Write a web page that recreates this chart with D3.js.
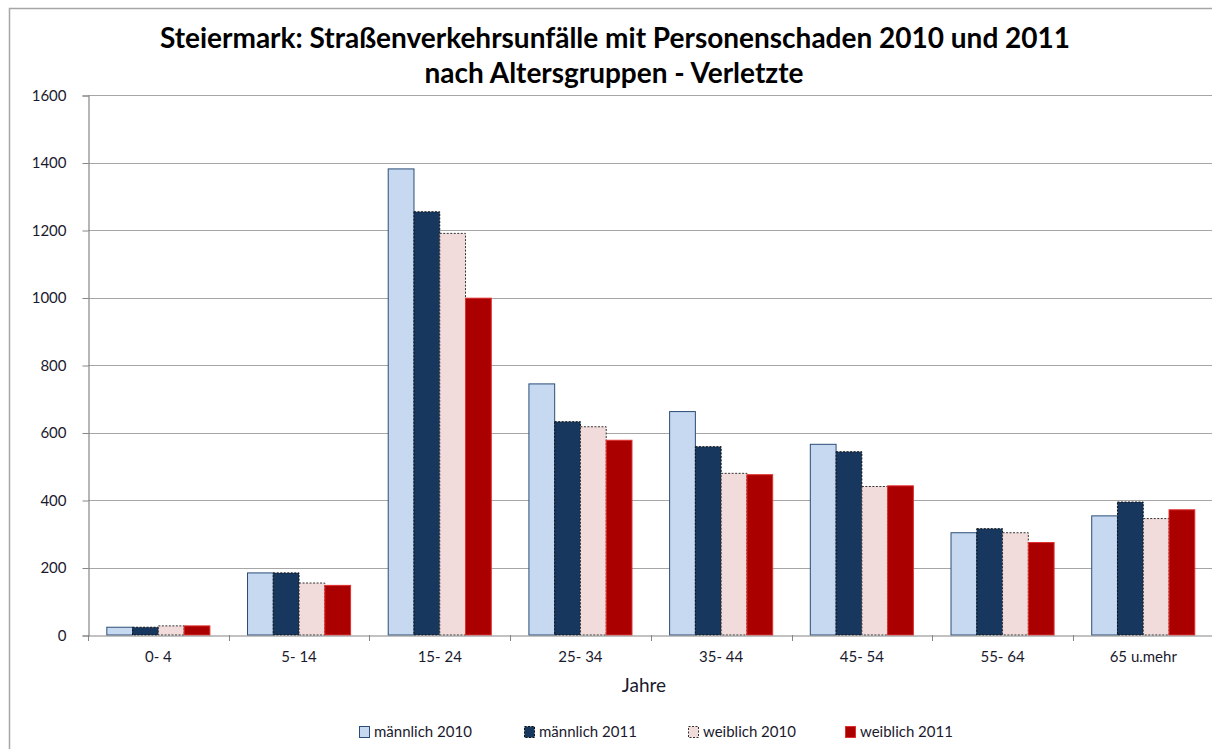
<!DOCTYPE html>
<html>
<head>
<meta charset="utf-8">
<script src="https://cdn.jsdelivr.net/npm/d3@7"></script>
<style>
  html, body { margin: 0; background: #fff; overflow: hidden; }
  svg { display: block; }
  text { font-family: Lato, "Open Sans", sans-serif; }
</style>
</head>
<body>
<div class="canvas"></div>
<script>
const ageGroups = ['0- 4', '5- 14', '15- 24', '25- 34', '35- 44', '45- 54', '55- 64', '65 u.mehr'];
const seriesNames = ['männlich 2010', 'männlich 2011', 'weiblich 2010', 'weiblich 2011'];
const maennlich2010 = [23, 184, 1381, 744, 662, 565, 303, 353];
const maennlich2011 = [23, 184, 1254, 632, 558, 543, 315, 394];
const weiblich2010 = [27, 154, 1190, 617, 479, 440, 303, 345];
const weiblich2011 = [27, 147, 998, 577, 475, 442, 274, 371];
const yTicks = [0, 200, 400, 600, 800, 1000, 1200, 1400, 1600];

const seriesValues = [maennlich2010, maennlich2011, weiblich2010, weiblich2011];
const styles = [
  { fill: '#c6d9f1', stroke: '#2c4d76', dash: null },
  { fill: '#17375e', stroke: '#111', dash: '2,1.5' },
  { fill: '#f2dcdb', stroke: '#333', dash: '2,1.5' },
  { fill: '#aa0000', stroke: '#e03030', dash: null }
];

const W = 1212, H = 749;
const plot = { left: 88, right: 1213.6, top: 95, bottom: 635 };

const svg = d3.select('.canvas')
  .append('svg')
  .attr('width', W)
  .attr('height', H);

// chart frame
svg.append('rect')
  .attr('x', 9.5).attr('y', 8.5)
  .attr('width', 1230).attr('height', 760)
  .attr('fill', 'none')
  .attr('stroke', '#a6a6a6')
  .attr('stroke-width', 1.5);

const x0 = d3.scaleBand()
  .domain(ageGroups)
  .range([plot.left, plot.right]);

const x1 = d3.scaleBand()
  .domain(seriesNames)
  .range([0, x0.bandwidth()])
  .paddingOuter(0.73);

const y = d3.scaleLinear()
  .domain([0, 1600])
  .range([plot.bottom, plot.top]);

// grid
svg.append('g')
  .selectAll('line')
  .data(yTicks.filter(d => d > 0))
  .enter().append('line')
    .attr('x1', plot.left).attr('x2', plot.right)
    .attr('y1', d => Math.round(y(d)) + 0.5)
    .attr('y2', d => Math.round(y(d)) + 0.5)
    .attr('stroke', '#a6a6a6')
    .attr('stroke-width', 1.2);

// y axis
const yAxis = svg.append('g')
  .attr('transform', `translate(${plot.left + 0.5}, 0.5)`)
  .call(d3.axisLeft(y).tickValues(yTicks).tickFormat(d3.format('d')).tickSize(6).tickPadding(16));
yAxis.select('.domain').attr('stroke', '#868686').attr('stroke-width', 1.2);
yAxis.selectAll('.tick line').attr('stroke', '#868686');
yAxis.selectAll('text')
  .attr('font-size', 15)
  .attr('fill', '#1a1a2e');

// bars
const groups = svg.append('g')
  .selectAll('g')
  .data(ageGroups)
  .enter().append('g')
    .attr('transform', d => `translate(${x0(d)}, 0)`);

groups.selectAll('rect')
  .data((d, i) => seriesNames.map((s, k) => ({ series: s, k, value: seriesValues[k][i] })))
  .enter().append('rect')
    .attr('x', d => x1(d.series))
    .attr('y', d => y(d.value))
    .attr('width', x1.bandwidth())
    .attr('height', d => y(0) - y(d.value))
    .attr('fill', d => styles[d.k].fill)
    .attr('stroke', d => styles[d.k].stroke)
    .attr('stroke-width', 1)
    .attr('stroke-dasharray', d => styles[d.k].dash);

// x axis
const xAxis = svg.append('g')
  .attr('transform', `translate(0, ${plot.bottom + 0.5})`)
  .call(d3.axisBottom(x0).tickSize(0).tickPadding(16));
xAxis.select('.domain').attr('stroke', '#868686').attr('stroke-width', 1.2);
xAxis.selectAll('text')
  .attr('font-size', 15)
  .attr('fill', '#1a1a2e');

// x tick marks between categories
svg.append('g')
  .selectAll('line')
  .data(d3.range(ageGroups.length + 1))
  .enter().append('line')
    .attr('x1', i => Math.round(plot.left + i * x0.step()) + 0.5)
    .attr('x2', i => Math.round(plot.left + i * x0.step()) + 0.5)
    .attr('y1', plot.bottom)
    .attr('y2', plot.bottom + 6)
    .attr('stroke', '#868686');

// axis title
svg.append('text')
  .attr('x', 644).attr('y', 692)
  .attr('text-anchor', 'middle')
  .attr('font-size', 19)
  .attr('fill', '#1a1a2e')
  .text('Jahre');

// title
const title = svg.append('text')
  .attr('text-anchor', 'middle')
  .attr('font-size', 28)
  .attr('font-weight', 'bold')
  .attr('fill', '#000');
title.append('tspan').attr('x', 615).attr('y', 48)
  .text('Steiermark: Straßenverkehrsunfälle mit Personenschaden 2010 und 2011');
title.append('tspan').attr('x', 614).attr('y', 83)
  .text('nach Altersgruppen - Verletzte');

// legend
const legendX = [359, 524, 688, 845];
const legend = svg.append('g')
  .selectAll('g')
  .data(seriesNames)
  .enter().append('g')
    .attr('transform', (d, i) => `translate(${legendX[i]}, 726)`);

legend.append('rect')
  .attr('x', 0.5).attr('y', 0.5)
  .attr('width', 10).attr('height', 11)
  .attr('fill', (d, i) => styles[i].fill)
  .attr('stroke', (d, i) => styles[i].stroke)
  .attr('stroke-dasharray', (d, i) => styles[i].dash);

legend.append('text')
  .attr('x', 15).attr('y', 11)
  .attr('font-size', 15)
  .attr('fill', '#1a1a2e')
  .text(d => d);
</script>
</body>
</html>
